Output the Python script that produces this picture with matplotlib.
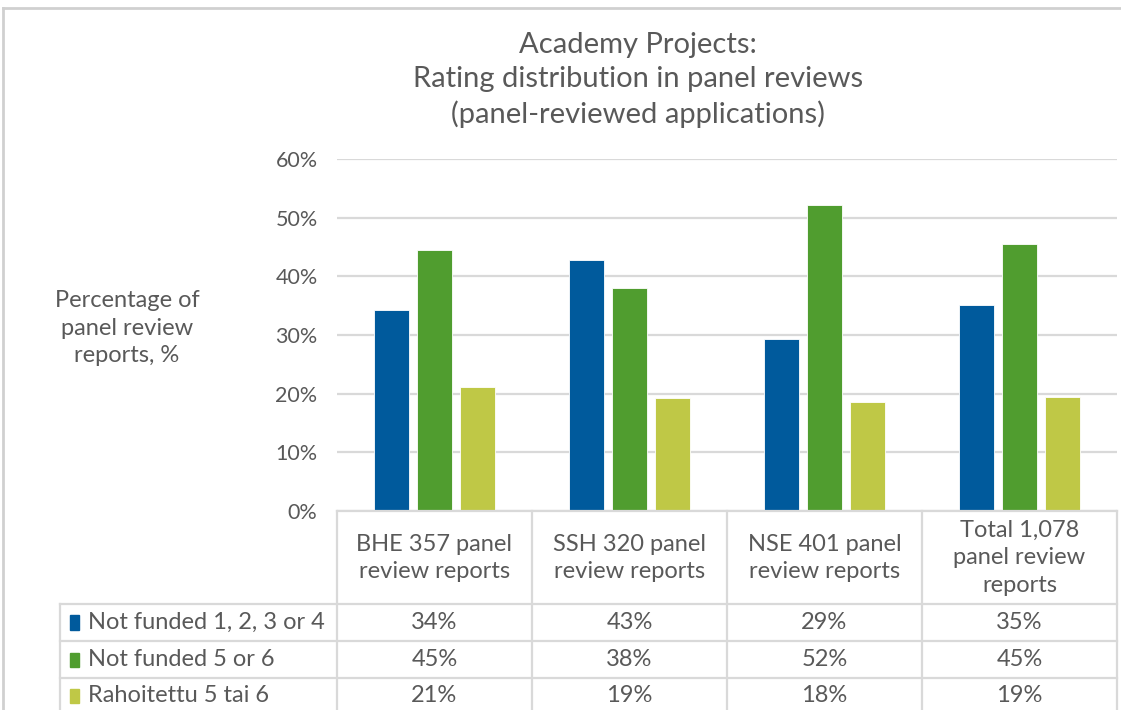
import matplotlib
matplotlib.use("Agg")
import matplotlib.pyplot as plt
from matplotlib.transforms import blended_transform_factory
from matplotlib.lines import Line2D
from matplotlib.patches import Rectangle

plt.rcParams['font.family'] = ['Lato', 'DejaVu Sans']

categories = ["BHE 357 panel\nreview reports", "SSH 320 panel\nreview reports",
              "NSE 401 panel\nreview reports", "Total 1,078\npanel review\nreports"]
series_names = ["Not funded 1, 2, 3 or 4", "Not funded 5 or 6", "Rahoitettu 5 tai 6"]
not_funded_1_4 = [34.3, 42.7, 29.4, 35.1]
not_funded_5_6 = [44.5, 38.0, 52.1, 45.5]
funded_5_6 = [21.1, 19.2, 18.5, 19.5]
table_labels = [["34%", "43%", "29%", "35%"],
                ["45%", "38%", "52%", "45%"],
                ["21%", "19%", "18%", "19%"]]
yticks = [0, 10, 20, 30, 40, 50, 60]
ytick_labels = ["0%", "10%", "20%", "30%", "40%", "50%", "60%"]
title = "Academy Projects:\nRating distribution in panel reviews\n(panel-reviewed applications)"
ylabel = "Percentage of\npanel review\nreports, %"

colors = ["#005A9C", "#509D2F", "#BFC846"]
text_color = "#595959"
grid_color = "#D9D9D9"

W, H = 1121, 710
fig = plt.figure(figsize=(W / 100, H / 100), dpi=100)

def fx(x):
    return x / W

def fy(y):
    return 1 - y / H

# chart border
fig.add_artist(Line2D([fx(3), fx(W + 5)], [fy(8), fy(8)], color="#D0D0D0", lw=2))
fig.add_artist(Line2D([fx(3), fx(3)], [fy(8), fy(H + 5)], color="#D0D0D0", lw=2))

left, right, top, bottom = 337, 1117, 159, 511
ax = fig.add_axes([fx(left), fy(bottom), fx(right) - fx(left), fy(top) - fy(bottom)])

series = [not_funded_1_4, not_funded_5_6, funded_5_6]
n = len(categories)
xs = list(range(n))
bw = 0.178
offs = [-0.222, 0.0, 0.222]
for s, vals in enumerate(series):
    ax.bar([x + offs[s] for x in xs], vals, width=bw, color=colors[s],
           edgecolor="white", linewidth=0.6, zorder=3)

ax.set_xlim(-0.5, n - 0.5)
ax.set_ylim(0, 60)
ax.set_yticks(yticks)
ax.set_yticklabels(ytick_labels, fontsize=15.5, color=text_color)
ax.tick_params(axis="y", length=0, pad=14)
ax.tick_params(axis="x", length=0, labelbottom=False)
ax.grid(axis="y", color=grid_color, lw=1.6, zorder=0)
for sp in ax.spines.values():
    sp.set_visible(False)

fig.text(fx(638), fy(80), title, ha="center", va="center",
         fontsize=21, color=text_color, linespacing=1.38)
fig.text(fx(127), fy(328), ylabel, ha="center", va="center", fontsize=17,
         color=text_color, linespacing=1.38)

# data table
tr = blended_transform_factory(ax.transData, fig.transFigure)
line_kw = dict(color=grid_color, lw=1.6)
row_lines = [604, 641, 678]
for yy in row_lines:
    fig.add_artist(Line2D([fx(60), fx(right)], [fy(yy), fy(yy)], **line_kw))
fig.add_artist(Line2D([fx(left), fx(right)], [fy(bottom), fy(bottom)], **line_kw))
for b in [-0.5 + i for i in range(n + 1)]:
    fig.add_artist(Line2D([b, b], [fy(bottom), fy(H + 5)], transform=tr, **line_kw))
fig.add_artist(Line2D([fx(60), fx(60)], [fy(604), fy(H + 5)], **line_kw))

for i, c in enumerate(categories):
    fig.text(i, fy(558), c, transform=tr, ha="center", va="center",
             fontsize=17, color=text_color, linespacing=1.38)

row_centers = [622.5, 659.5, 696]
for r, name in enumerate(series_names):
    yc = row_centers[r]
    fig.add_artist(Rectangle((fx(70), fy(yc + 7)), fx(9), fy(yc - 7) - fy(yc + 7),
                             color=colors[r], transform=fig.transFigure))
    fig.text(fx(88), fy(yc), name, ha="left", va="center", fontsize=17, color=text_color)
    for i in range(n):
        fig.text(i, fy(yc), table_labels[r][i], transform=tr, ha="center",
                 va="center", fontsize=17, color=text_color)

fig.savefig("out.png", dpi=100, facecolor="white")
